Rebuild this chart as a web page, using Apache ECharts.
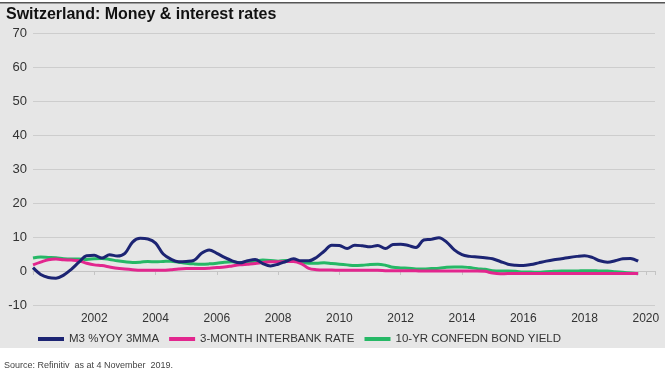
<!DOCTYPE html>
<html>
<head>
<meta charset="utf-8">
<script src="https://cdn.jsdelivr.net/npm/echarts@6/dist/echarts.min.js"></script>
<style>
  html, body { margin: 0; padding: 0; background: #fff; }
  #chart { width: 665px; height: 376px; }
</style>
</head>
<body>
<div id="chart"></div>
<script>
// quarterly readings, first point = Q1 2000
var startYear = 2000;
var m3Yoy = [
  1.0, -1.0, -1.9, -2.1, -1.2, 0.5, 2.6, 4.5,
  4.6, 3.8, 4.8, 4.4, 5.2, 8.5, 9.6, 9.4,
  8.2, 5.0, 3.5, 2.7, 2.8, 3.1, 5.2, 6.2,
  5.2, 4.0, 3.0, 2.4, 3.0, 3.4, 2.2, 1.5,
  2.0, 2.8, 3.6, 3.0, 3.0, 4.0, 5.8, 7.6,
  7.5, 6.6, 7.6, 7.4, 7.1, 7.5, 6.6, 7.8,
  7.9, 7.5, 6.9, 9.1, 9.3, 9.8, 8.5, 6.2,
  4.8, 4.3, 4.1, 3.9, 3.6, 2.8, 2.0, 1.7,
  1.6, 1.9, 2.4, 2.9, 3.3, 3.6, 4.0, 4.3,
  4.5, 4.0, 3.0, 2.6, 3.0, 3.6, 3.7, 2.9
];
var interbank3m = [
  1.8, 2.6, 3.3, 3.5, 3.3, 3.2, 3.0, 2.3,
  1.8, 1.6, 1.2, 0.8, 0.6, 0.4, 0.2, 0.2,
  0.2, 0.2, 0.4, 0.6, 0.7, 0.7, 0.7, 0.8,
  1.0, 1.2, 1.5, 1.8, 2.0, 2.2, 2.5, 2.7,
  2.7, 2.8, 2.8, 2.2, 0.8, 0.4, 0.3, 0.3,
  0.2, 0.2, 0.2, 0.2, 0.2, 0.2, 0.1, 0.05,
  0.1, 0.1, 0.05, 0.0, 0.0, 0.0, 0.0, 0.0,
  0.0, 0.0, 0.0, -0.1, -0.6, -0.8, -0.75, -0.75,
  -0.75, -0.75, -0.75, -0.75, -0.75, -0.75, -0.75, -0.75,
  -0.75, -0.75, -0.75, -0.75, -0.75, -0.75, -0.75, -0.75
];
var bond10y = [
  3.8, 4.1, 4.0, 3.9, 3.6, 3.5, 3.5, 3.4,
  3.6, 3.7, 3.4, 3.0, 2.7, 2.5, 2.6, 2.8,
  2.7, 2.8, 2.9, 2.6, 2.3, 2.1, 2.0, 2.1,
  2.3, 2.6, 2.7, 2.5, 2.6, 2.9, 3.2, 3.1,
  2.9, 3.1, 3.0, 2.6, 2.3, 2.3, 2.4, 2.2,
  2.0, 1.8, 1.6, 1.7, 1.9, 2.0, 1.7, 1.1,
  0.9, 0.8, 0.6, 0.6, 0.7, 0.8, 1.1, 1.2,
  1.2, 1.0, 0.7, 0.5, 0.1, 0.0, 0.0, -0.1,
  -0.3, -0.3, -0.4, -0.2, -0.1, 0.0, 0.0, 0.0,
  0.1, 0.1, 0.0, 0.0, -0.2, -0.4, -0.6, -0.8
];
var seriesNames = ['M3 %YOY 3MMA', '3-MONTH INTERBANK RATE', '10-YR CONFEDN BOND YIELD'];
var seriesColors = ['#1c2473', '#e2268e', '#26b866'];

function pairs(vals) {
  return vals.map(function (v, i) { return [startYear + i * 0.25, v]; });
}

var chart = echarts.init(document.getElementById('chart'));

var option = {
  backgroundColor: '#fff',
  animation: false,
  textStyle: { fontFamily: 'Liberation Sans, Arial, sans-serif' },
  graphic: [
    { type: 'rect', z: -10, shape: { x: 0, y: 3, width: 665, height: 345 }, style: { fill: '#e6e6e6' } },
    { type: 'rect', z: -9, shape: { x: 0, y: 2, width: 665, height: 1.5 }, style: { fill: '#555' } },
    { type: 'text', left: 6, top: 7, style: { text: 'Switzerland: Money & interest rates', fill: '#111', font: 'bold 16px Liberation Sans, Arial, sans-serif' } },
    { type: 'text', left: 4, top: 361, style: { text: 'Source: Refinitiv  as at 4 November  2019.', fill: '#444', font: '9px Liberation Sans, Arial, sans-serif' } }
  ],
  grid: { left: 33, right: 10, top: 33, bottom: 71, containLabel: false },
  legend: {
    left: 33, top: 328,
    icon: 'rect', itemWidth: 26, itemHeight: 4, itemGap: 10,
    textStyle: { fontSize: 11.5, color: '#333', fontFamily: 'Liberation Sans, Arial, sans-serif' },
    data: seriesNames
  },
  xAxis: {
    type: 'value', min: 2000, max: 2020.3, interval: 2,
    axisLine: { show: true, lineStyle: { color: '#c4c4c4' } },
    axisTick: { show: true, length: 4, lineStyle: { color: '#c4c4c4' } },
    splitLine: { show: false },
    axisLabel: {
      fontSize: 12, color: '#333', margin: 8,
      formatter: function (v) { return (v > 2000 && v % 2 === 0) ? String(v) : ''; }
    }
  },
  yAxis: {
    type: 'value', min: -10, max: 70, interval: 10,
    axisLine: { show: false }, axisTick: { show: false },
    splitLine: { lineStyle: { color: '#cdcdcd' } },
    axisLabel: { fontSize: 13, color: '#333', margin: 6 }
  },
  series: seriesNames.map(function (name, k) {
    var vals = [m3Yoy, interbank3m, bond10y][k];
    return {
      name: name, type: 'line', data: pairs(vals),
      symbol: 'none', smooth: 0.35, z: 3 - k,
      lineStyle: { width: 3, color: seriesColors[k] },
      itemStyle: { color: seriesColors[k] }
    };
  })
};

chart.setOption(option);
</script>
</body>
</html>
